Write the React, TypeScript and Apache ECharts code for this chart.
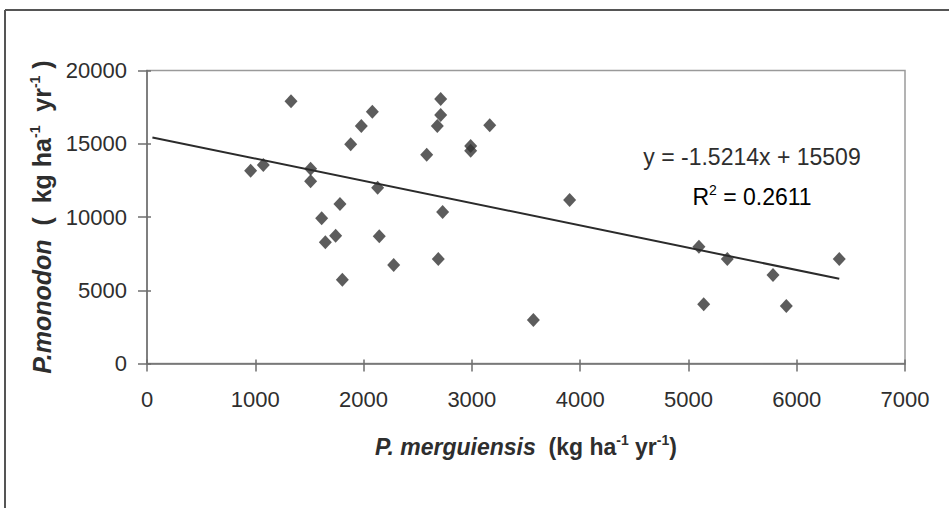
import React, { useEffect, useRef } from "react";
import * as echarts from "echarts";

const xValues = [957, 1074, 1330, 1511, 1511, 1613, 1647, 1742, 1782, 1804, 1881, 1979, 2081, 2130, 2145, 2278, 2583, 2681, 2690, 2712, 2712, 2730, 2989, 2989, 3165, 3568, 3903, 5097, 5141, 5359, 5781, 5904, 6393];
const yValues = [13160, 13550, 17900, 13300, 12440, 9910, 8270, 8720, 10890, 5720, 14960, 16210, 17190, 12000, 8680, 6720, 14250, 16210, 7130, 18050, 16960, 10340, 14850, 14530, 16260, 2970, 11160, 7970, 4040, 7130, 6040, 3920, 7130];
const slope = -1.5214;
const intercept = 15509;
const rSquared = "0.2611";
const trendRange = [50, 6393];
const xTicks = { min: 0, max: 7000, interval: 1000 };
const yTicks = { min: 0, max: 20000, interval: 5000 };

const FONT = "'Liberation Sans', Arial, Helvetica, sans-serif";
const TXT = "#2e2e2e";
const AXIS = "#6e6e6e";

export default function App() {
  const ref = useRef<HTMLDivElement>(null);
  useEffect(() => {
    document.body.style.margin = "0";
    const chart = echarts.init(ref.current!, null, { renderer: "svg" });
    const points = xValues.map((x, i) => [x, yValues[i]]);
    const trend = trendRange.map((x) => [x, slope * x + intercept]);
    const sup = { fontSize: 14, fontWeight: "bold", fontFamily: FONT, color: TXT, verticalAlign: "top", lineHeight: 12 };
    const supN = { fontSize: 14, fontFamily: FONT, color: TXT, verticalAlign: "top", lineHeight: 12 };
    const base = { fontSize: 23, fontWeight: "bold", fontFamily: FONT, color: TXT, lineHeight: 28 };
    const ital = { ...base, fontStyle: "italic" };
    const fmt = (v: number) => String(v);
    const common = { type: "value", axisLine: { lineStyle: { color: AXIS, width: 1.5 } }, splitLine: { show: false } };
    chart.setOption({
      animation: false,
      backgroundColor: "#fff",
      grid: { left: 147, top: 70.5, right: 44, bottom: 144.5, show: true, borderColor: "#9a9a9a", borderWidth: 1.5, backgroundColor: "transparent" },
      xAxis: [
        {
          ...common, ...xTicks, position: "bottom",
          axisTick: { show: true, length: 8, lineStyle: { color: AXIS, width: 1.5 } },
          axisLabel: { fontSize: 22, fontFamily: FONT, color: TXT, margin: 25, formatter: fmt },
          name: "{i|P. merguiensis}{b|  (kg ha}{s|-1}{b| yr}{s|-1}{b|)}",
          nameLocation: "middle", nameGap: 69,
          nameTextStyle: { rich: { i: ital, b: base, s: sup } },
        },
        {
          ...common, ...xTicks, position: "bottom",
          axisLine: { show: false },
          axisTick: { show: true, inside: true, length: 4, lineStyle: { color: AXIS, width: 1.5 } },
          axisLabel: { show: false },
        },
      ],
      yAxis: [
        {
          ...common, ...yTicks, position: "left",
          axisTick: { show: true, length: 9, lineStyle: { color: AXIS, width: 1.5 } },
          axisLabel: { fontSize: 22, fontFamily: FONT, color: TXT, margin: 20, formatter: fmt },
          name: "{i|P.monodon}{b|  (  kg ha}{s|-1}{b|  yr}{s|-1}{b| )}",
          nameLocation: "middle", nameGap: 90, nameRotate: 90,
          nameTextStyle: { rich: { i: { ...ital, fontSize: 25 }, b: { ...base, fontSize: 25 }, s: sup } },
        },
        {
          ...common, ...yTicks, position: "left",
          axisLine: { show: false },
          axisTick: { show: true, inside: true, length: 4, lineStyle: { color: AXIS, width: 1.5 } },
          axisLabel: { show: false },
        },
      ],
      series: [
        {
          type: "scatter", data: points, symbol: "diamond", symbolSize: [13, 14],
          itemStyle: { color: "#333" },
        },
        {
          type: "line", data: trend, symbol: "none",
          lineStyle: { color: "#2b2b2b", width: 2 },
        },
      ],
      graphic: [
        { type: "line", shape: { x1: 5, y1: 10, x2: 949, y2: 10 }, style: { stroke: "#555", lineWidth: 2 } },
        { type: "line", shape: { x1: 5, y1: 10, x2: 5, y2: 508 }, style: { stroke: "#555", lineWidth: 2 } },
        {
          type: "text", x: 752, y: 157,
          style: {
            text: "y = " + slope + "x + " + intercept,
            fontSize: 23, fontFamily: FONT, fill: TXT, align: "center", verticalAlign: "middle",
          },
        },
        {
          type: "text", x: 752, y: 197,
          style: {
            text: "{b|R}{s|2}{b| = " + rSquared + "}",
            align: "center", verticalAlign: "middle",
            rich: { b: { fontSize: 23, fontFamily: FONT, color: TXT, lineHeight: 28 }, s: supN },
          },
        },
      ],
    });
    return () => chart.dispose();
  }, []);
  return <div ref={ref} style={{ width: 949, height: 508 }} />;
}
